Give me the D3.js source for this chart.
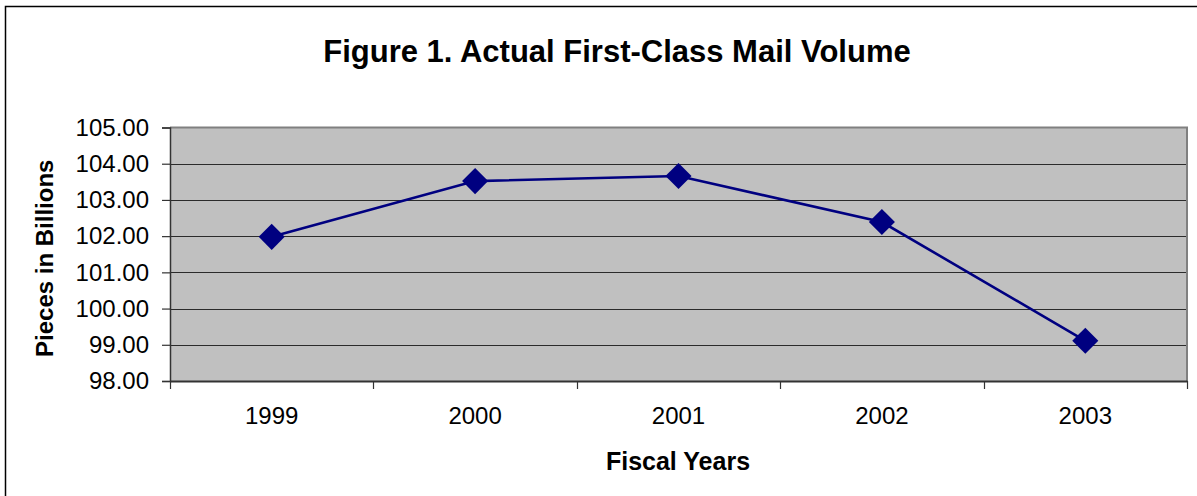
<!DOCTYPE html>
<html>
<head>
<meta charset="utf-8">
<script src="https://cdn.jsdelivr.net/npm/d3@7"></script>
<style>
  html, body { margin: 0; padding: 0; background: #fff; }
  svg { display: block; font-family: Arial, "Liberation Sans", sans-serif; }
</style>
</head>
<body>
<svg id="chart" width="1197" height="496"></svg>
<script>
// First-Class Mail volume by fiscal year (billions of pieces)
const years = ["1999", "2000", "2001", "2002", "2003"];
const volumes = [101.98, 103.52, 103.66, 102.39, 99.11];
const yTicks = [98, 99, 100, 101, 102, 103, 104, 105];

const title = "Figure 1. Actual First-Class Mail Volume";
const xTitle = "Fiscal Years";
const yTitle = "Pieces in Billions";

const svg = d3.select("#chart");
const plot = { left: 170, right: 1187, top: 127.5, bottom: 381 };

// Outer chart frame (continues past the right and bottom edges)
svg.append("rect")
  .attr("x", 5.5).attr("y", 6.5)
  .attr("width", 1220).attr("height", 520)
  .attr("fill", "#fff").attr("stroke", "#000").attr("stroke-width", 1.5);

const x = d3.scaleBand().domain(years).range([plot.left, plot.right]).padding(0);
const y = d3.scaleLinear().domain([98, 105]).range([plot.bottom, plot.top]);

// Plot area background
svg.append("rect")
  .attr("x", plot.left).attr("y", plot.top)
  .attr("width", plot.right - plot.left).attr("height", plot.bottom - plot.top)
  .attr("fill", "#c0c0c0");

// Horizontal gridlines
svg.append("g")
  .selectAll("line")
  .data(yTicks.filter(v => v > 98 && v < 105))
  .join("line")
  .attr("x1", plot.left).attr("x2", plot.right)
  .attr("y1", d => Math.round(y(d)) + 0.5).attr("y2", d => Math.round(y(d)) + 0.5)
  .attr("stroke", "#2b2b2b").attr("stroke-width", 1.2);

// Plot area border (top and right)
svg.append("path")
  .attr("d", `M${plot.left},${plot.top}H${plot.right}V${plot.bottom}`)
  .attr("fill", "none").attr("stroke", "#808080").attr("stroke-width", 2);

// Y axis
const yAxis = svg.append("g")
  .attr("transform", `translate(${plot.left},0)`)
  .call(d3.axisLeft(y).tickValues(yTicks).tickFormat(d3.format(".2f")).tickSize(8).tickPadding(13));
yAxis.select(".domain").attr("stroke", "#333").attr("stroke-width", 1.5);
yAxis.selectAll(".tick line").attr("stroke", "#333").attr("stroke-width", 1.2);
yAxis.selectAll("text")
  .attr("font-size", 24).attr("fill", "#000")
  .attr("font-family", "Arial, 'Liberation Sans', sans-serif");

// X axis: labels centred in each category, ticks on the category boundaries
const xAxis = svg.append("g")
  .attr("transform", `translate(0,${plot.bottom})`)
  .call(d3.axisBottom(x).tickSize(0).tickPadding(26));
xAxis.select(".domain").attr("stroke", "#333").attr("stroke-width", 2);
xAxis.selectAll("text")
  .attr("font-size", 24).attr("fill", "#000")
  .attr("font-family", "Arial, 'Liberation Sans', sans-serif");

const boundaries = years.map(d => x(d)).concat([x(years[years.length - 1]) + x.bandwidth()]);
svg.append("g")
  .selectAll("line")
  .data(boundaries)
  .join("line")
  .attr("x1", d => Math.round(d) + 0.5).attr("x2", d => Math.round(d) + 0.5)
  .attr("y1", plot.bottom).attr("y2", plot.bottom + 8)
  .attr("stroke", "#333").attr("stroke-width", 1.2);

// Series line
const cx = d => x(d) + x.bandwidth() / 2;
const pts = years.map((d, i) => [cx(d), y(volumes[i])]);
svg.append("path")
  .datum(pts)
  .attr("d", d3.line())
  .attr("fill", "none")
  .attr("stroke", "#000080")
  .attr("stroke-width", 2.6);

// Diamond markers
const diamond = d3.symbol().type(d3.symbolSquare).size(340);
svg.append("g")
  .selectAll("path")
  .data(pts)
  .join("path")
  .attr("d", diamond)
  .attr("transform", d => `translate(${d[0]},${d[1]}) rotate(45)`)
  .attr("fill", "#000080");

// Titles
svg.append("text")
  .attr("x", 617).attr("y", 62)
  .attr("text-anchor", "middle")
  .attr("font-size", 31).attr("font-weight", "bold")
  .text(title);

svg.append("text")
  .attr("x", 678).attr("y", 470)
  .attr("text-anchor", "middle")
  .attr("font-size", 25).attr("font-weight", "bold")
  .text(xTitle);

svg.append("text")
  .attr("transform", `translate(53,${(plot.top + plot.bottom) / 2 + 4}) rotate(-90)`)
  .attr("text-anchor", "middle")
  .attr("font-size", 24).attr("font-weight", "bold")
  .text(yTitle);
</script>
</body>
</html>
